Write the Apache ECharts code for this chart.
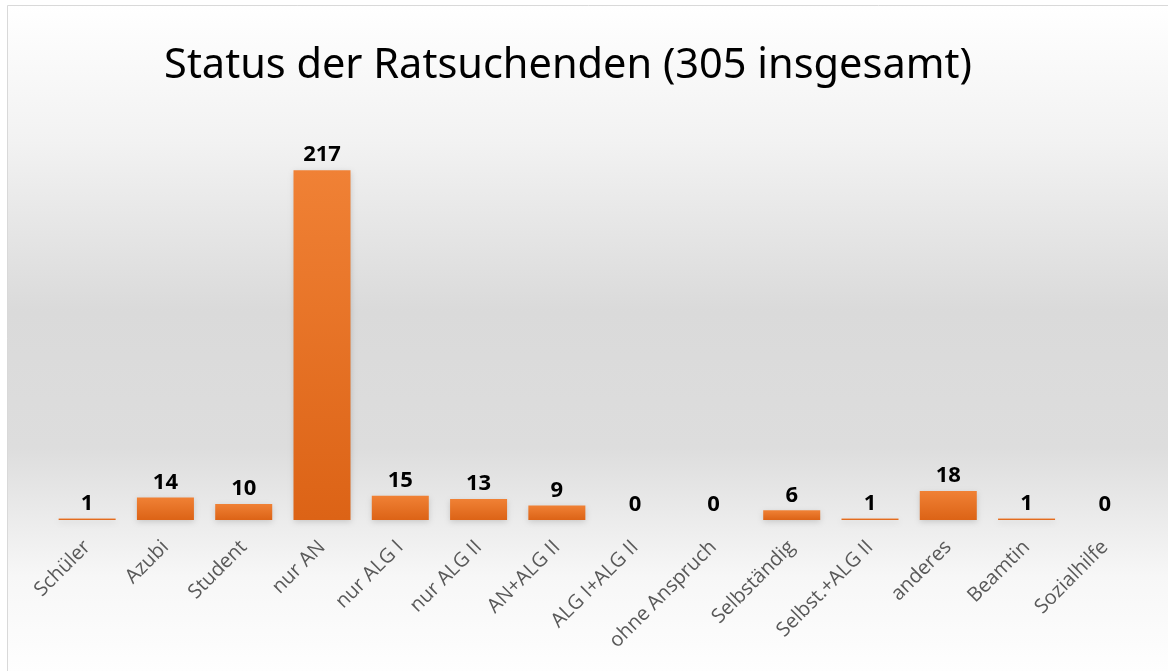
<!DOCTYPE html>
<html>
<head>
<meta charset="utf-8">
<script src="https://cdn.jsdelivr.net/npm/echarts@6/dist/echarts.min.js"></script>
<style>
  html, body { margin: 0; padding: 0; background: #fff; }
  #chart { width: 1168px; height: 671px; }
</style>
</head>
<body>
<div id="chart"></div>
<script>
const title = 'Status der Ratsuchenden (305 insgesamt)'
const categories = ['Schüler', 'Azubi', 'Student', 'nur AN', 'nur ALG I', 'nur ALG II', 'AN+ALG II',
  'ALG I+ALG II', 'ohne Anspruch', 'Selbständig', 'Selbst.+ALG II', 'anderes', 'Beamtin', 'Sozialhilfe']
const counts = [1, 14, 10, 217, 15, 13, 9, 0, 0, 6, 1, 18, 1, 0]

const chart = echarts.init(document.getElementById('chart'))

const option = {
  backgroundColor: '#fff',
  graphic: [
    {
      type: 'rect',
      z: -10,
      shape: { x: 7.5, y: 5.5, width: 1170, height: 680 },
      style: {
        stroke: '#d9d9d9',
        lineWidth: 1,
        fill: new echarts.graphic.LinearGradient(0, 0, 0, 1, [
          { offset: 0, color: '#ffffff' },
          { offset: 0.2, color: '#f2f2f2' },
          { offset: 0.45, color: '#dadada' },
          { offset: 0.65, color: '#dddddd' },
          { offset: 0.84, color: '#f7f7f7' },
          { offset: 1, color: '#ffffff' }
        ])
      }
    }
  ],
  title: {
    text: title,
    left: 563,
    textAlign: 'center',
    top: 40,
    textStyle: {
      fontFamily: 'Noto Sans',
      fontWeight: 'normal',
      fontSize: 41.5,
      color: '#000'
    }
  },
  grid: { left: 48, right: 24, top: 117, bottom: 151 },
  xAxis: {
    type: 'category',
    data: categories,
    axisLine: { show: false },
    axisTick: { show: false },
    axisLabel: {
      rotate: 45,
      interval: 0,
      margin: 24,
      color: '#595959',
      fontFamily: 'Open Sans',
      fontSize: 20
    }
  },
  yAxis: {
    type: 'value',
    min: 0,
    max: 250,
    show: false,
    splitLine: { show: false }
  },
  series: [
    {
      type: 'bar',
      data: counts,
      barWidth: 57,
      itemStyle: {
        color: new echarts.graphic.LinearGradient(0, 0, 0, 1, [
          { offset: 0, color: '#f08135' },
          { offset: 1, color: '#dc6316' }
        ]),
        shadowColor: 'rgba(0,0,0,0.15)',
        shadowBlur: 6,
        shadowOffsetY: 2
      },
      label: {
        show: true,
        position: 'top',
        distance: 4,
        color: '#000',
        fontFamily: 'Open Sans',
        fontWeight: 'bold',
        fontSize: 22
      }
    }
  ]
}

option && chart.setOption(option)
</script>
</body>
</html>
